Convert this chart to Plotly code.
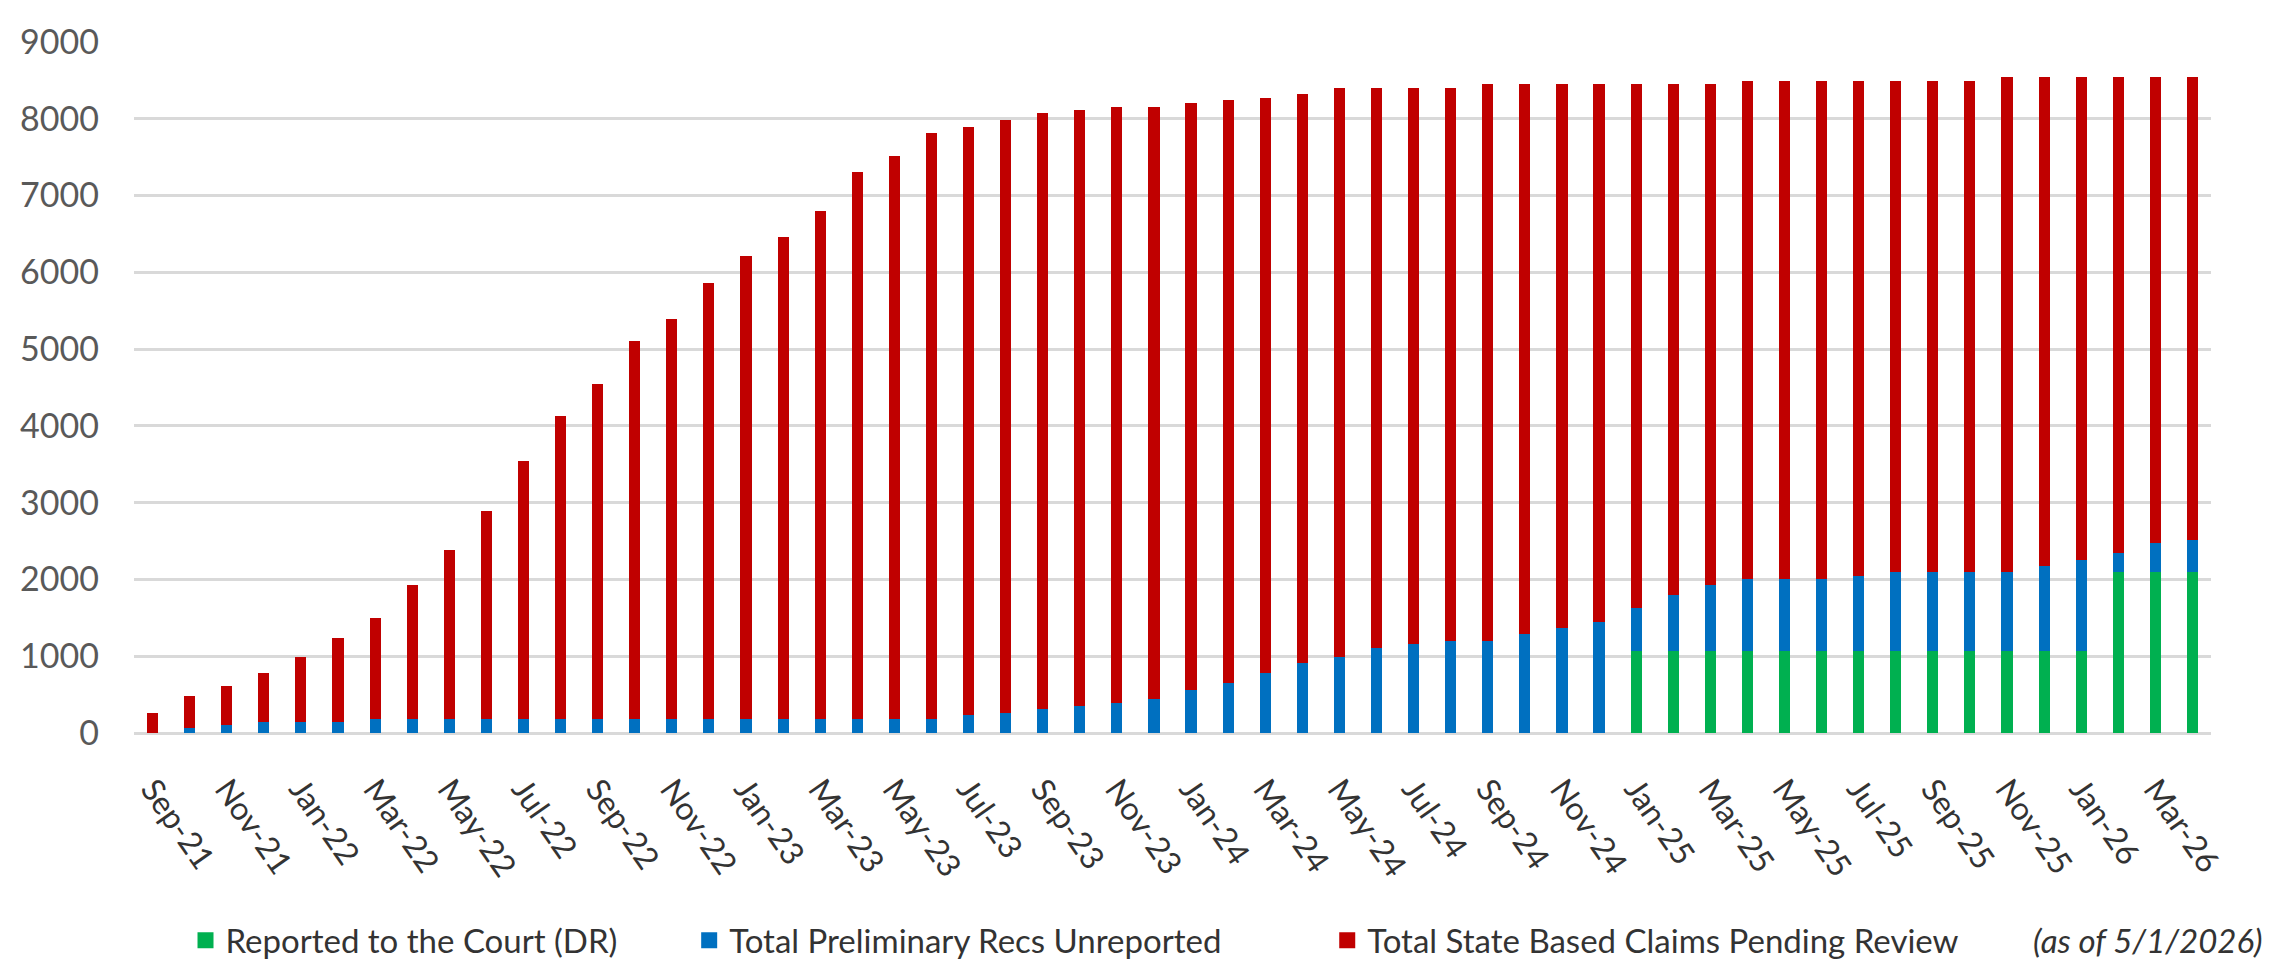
import plotly.graph_objects as go

months = ["Sep-21", "Oct-21", "Nov-21", "Dec-21",
          "Jan-22", "Feb-22", "Mar-22", "Apr-22", "May-22", "Jun-22", "Jul-22", "Aug-22", "Sep-22", "Oct-22", "Nov-22", "Dec-22",
          "Jan-23", "Feb-23", "Mar-23", "Apr-23", "May-23", "Jun-23", "Jul-23", "Aug-23", "Sep-23", "Oct-23", "Nov-23", "Dec-23",
          "Jan-24", "Feb-24", "Mar-24", "Apr-24", "May-24", "Jun-24", "Jul-24", "Aug-24", "Sep-24", "Oct-24", "Nov-24", "Dec-24",
          "Jan-25", "Feb-25", "Mar-25", "Apr-25", "May-25", "Jun-25", "Jul-25", "Aug-25", "Sep-25", "Oct-25", "Nov-25", "Dec-25",
          "Jan-26", "Feb-26", "Mar-26", "Apr-26"]

tick_labels = ["Sep-21", "Nov-21", "Jan-22", "Mar-22", "May-22", "Jul-22", "Sep-22", "Nov-22",
               "Jan-23", "Mar-23", "May-23", "Jul-23", "Sep-23", "Nov-23", "Jan-24", "Mar-24",
               "May-24", "Jul-24", "Sep-24", "Nov-24", "Jan-25", "Mar-25", "May-25", "Jul-25",
               "Sep-25", "Nov-25", "Jan-26", "Mar-26"]

reported_dr = [0, 0, 0, 0, 0, 0, 0, 0, 0, 0,
               0, 0, 0, 0, 0, 0, 0, 0, 0, 0,
               0, 0, 0, 0, 0, 0, 0, 0, 0, 0,
               0, 0, 0, 0, 0, 0, 0, 0, 0, 0,
               1071, 1071, 1071, 1071, 1071, 1071, 1071, 1071, 1071, 1071,
               1071, 1071, 1071, 2099, 2099, 2099]

prelim_unreported = [0, 59, 101, 139, 139, 139, 186, 186, 186, 186,
                     186, 186, 186, 186, 186, 186, 186, 186, 186, 186,
                     186, 186, 228, 262, 312, 354, 388, 439, 565, 657,
                     784, 910, 986, 1113, 1163, 1197, 1197, 1289, 1374, 1450,
                     556, 724, 851, 935, 935, 935, 977, 1028, 1028, 1028,
                     1028, 1103, 1188, 252, 379, 413]

pending_review = [265, 421, 506, 645, 847, 1100, 1315, 1736, 2203, 2709,
                  3354, 3944, 4365, 4921, 5212, 5680, 6021, 6274, 6612, 7117,
                  7332, 7623, 7669, 7724, 7762, 7758, 7762, 7711, 7636, 7582,
                  7493, 7417, 7417, 7290, 7240, 7206, 7257, 7165, 7080, 7004,
                  6827, 6659, 6532, 6486, 6486, 6486, 6444, 6393, 6393, 6393,
                  6444, 6369, 6284, 6192, 6065, 6031]

series = [
    ("Reported to the Court (DR)", reported_dr, "#00B050", "legend"),
    ("Total Preliminary Recs Unreported", prelim_unreported, "#0070C0", "legend2"),
    ("Total State Based Claims Pending Review", pending_review, "#C00000", "legend3"),
]

FONT = "Lato, 'Liberation Sans', Arial, sans-serif"

fig = go.Figure()
for name, vals, color, lg in series:
    fig.add_trace(go.Bar(x=months, y=vals, name=name, marker_color=color,
                         marker_line_width=0, showlegend=False))
    # legend-only proxy so the legend key can be a larger square
    fig.add_trace(go.Scatter(x=[None], y=[None], mode="markers", name=name,
                             marker=dict(symbol="square", size=16, color=color),
                             legend=lg, showlegend=True))

legend_common = dict(orientation="h", yanchor="middle", xanchor="left", y=-0.30,
                     font=dict(family=FONT, size=33, color="#333333"),
                     bgcolor="rgba(0,0,0,0)", itemsizing="trace", itemwidth=30)

fig.update_layout(
    width=2292, height=972,
    margin=dict(l=121, r=89, t=27, b=234),
    paper_bgcolor="white", plot_bgcolor="white",
    barmode="stack", bargap=0.70,
    font=dict(family=FONT),
    legend=dict(x=0.0248, **legend_common),
    legend2=dict(x=0.2673, **legend_common),
    legend3=dict(x=0.5745, **legend_common),
    xaxis=dict(type="category", tickmode="array", tickvals=tick_labels, ticktext=tick_labels,
               tickangle=55, showgrid=False, showline=False, ticks="",
               tickfont=dict(family=FONT, size=32, color="#333333"),
               ticklabelstandoff=30),
    yaxis=dict(range=[0, 9000], dtick=1000, showgrid=True, gridcolor="#D9D9D9", gridwidth=2.5,
               zeroline=True, zerolinecolor="#D9D9D9", zerolinewidth=2.5, showline=False, ticks="",
               tickfont=dict(family=FONT, size=34, color="#595959"), ticklabelstandoff=34),
    annotations=[dict(text="<i>(as of 5/1/2026)</i>", xref="paper", yref="paper",
                      x=1.026, y=-0.30, xanchor="right", yanchor="middle", showarrow=False,
                      font=dict(family=FONT, size=33, color="#333333"))],
)

fig.write_html("out.html")
